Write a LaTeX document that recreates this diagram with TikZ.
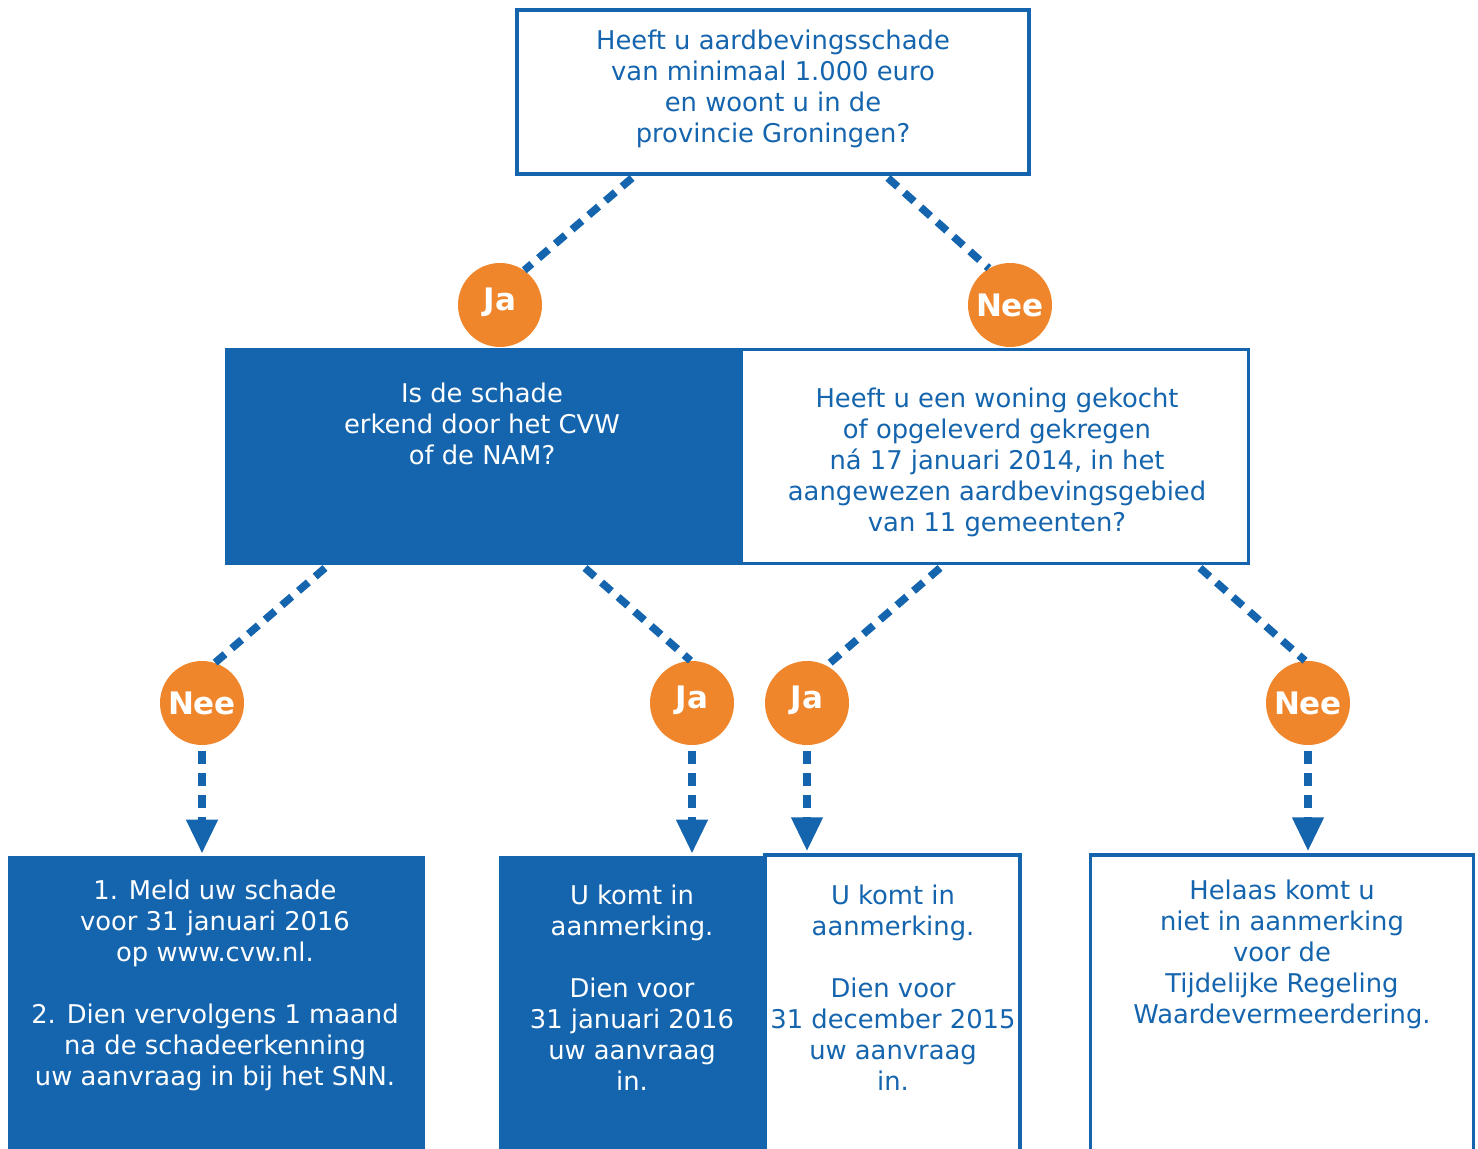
\documentclass[tikz,border=0pt]{standalone}
\usepackage{fontspec}
\setmainfont{DejaVu Sans}
\usetikzlibrary{arrows.meta,calc}
\definecolor{cvwblauw}{RGB}{21,101,174}
\definecolor{jaoranje}{RGB}{240,134,44}

\begin{document}
\begin{tikzpicture}[x=0.5pt,y=-0.5pt,inner sep=0pt,
                    font=\fontsize{12.9}{15.5}\selectfont]
  \tikzstyle{vraag}=[rectangle,draw=cvwblauw,line width=1.75pt,fill=white]
  \tikzstyle{vol}=[rectangle,fill=cvwblauw]
  \tikzstyle{tekst}=[align=center,text=cvwblauw]
  \tikzstyle{wit}=[align=center,text=white]
  \tikzstyle{keuze}=[circle,fill=jaoranje,text=white,minimum size=42pt,
                     font=\fontsize{15.5}{18}\selectfont\bfseries]
  \tikzstyle{jaknop}=[keuze,text depth=6pt]
  \tikzstyle{stip}=[draw=cvwblauw,line width=3.8pt,dash pattern=on 6.5pt off 4.5pt]
  \tikzstyle{pijl}=[stip,-{Triangle[width=15pt,length=17pt]}]

  \useasboundingbox (0,0) rectangle (1478,1149);
  \clip (0,0) rectangle (1478,1149);

  % vragen
  \node[vraag,minimum width=256pt,minimum height=82pt] (q1) at (773,92) {};
  \node[vol,minimum width=257.5pt,minimum height=108.5pt] (q2) at (482.5,456.5) {};
  \node[vraag,minimum width=253.5pt,minimum height=107pt] (q3) at (995,456.5) {};

  \node[tekst] (q1t) at (773,89) {Heeft u aardbevingsschade\\van minimaal 1.000 euro\\en woont u in de\\provincie Groningen?};
  \node[wit] (q2t) at (482,424) {Is de schade\\erkend door het CVW\\of de NAM?};
  \node[tekst] (q3t) at (997,462) {Heeft u een woning gekocht\\of opgeleverd gekregen\\ná 17 januari 2014, in het\\aangewezen aardbevingsgebied\\van 11 gemeenten?};

  % antwoorden
  \node[vol,minimum width=208.5pt,minimum height=152pt] (b1) at (216.5,1008) {};
  \node[vol,minimum width=132pt,minimum height=152pt] (b2) at (631,1008) {};
  \node[vraag,minimum width=127.5pt,minimum height=155pt] (b3) at (892.5,1010) {};
  \node[vraag,minimum width=191.5pt,minimum height=155pt] (b4) at (1282,1010) {};

  \node[wit] (b1t) at (215,985) {1. Meld uw schade\\voor 31 januari 2016\\op www.cvw.nl.\\ \\2. Dien vervolgens 1 maand\\na de schadeerkenning\\uw aanvraag in bij het SNN.};
  \node[wit] (b2t) at (632,988) {U komt in\\aanmerking.\\ \\Dien voor\\31 januari 2016\\uw aanvraag\\in.};
  \node[tekst] (b3t) at (893,988) {U komt in\\aanmerking.\\ \\Dien voor\\31 december 2015\\uw aanvraag\\in.};
  \node[tekst] (b4t) at (1282,954) {Helaas komt u\\niet in aanmerking\\voor de\\Tijdelijke Regeling\\Waardevermeerdering.};

  % ja / nee
  \node[jaknop] (ja1) at (500,305) {Ja};
  \node[keuze] (nee1) at (1010,305) {Nee};
  \node[keuze] (nee2) at (202,703) {Nee};
  \node[jaknop] (ja2) at (692,703) {Ja};
  \node[jaknop] (ja3) at (807,703) {Ja};
  \node[keuze] (nee3) at (1308,703) {Nee};

  \coordinate (q1ja) at (632,178);
  \coordinate (q1nee) at (888,178);
  \coordinate (q2nee) at (325,568);
  \coordinate (q2ja) at (585,568);
  \coordinate (q3ja) at (940,568);
  \coordinate (q3nee) at (1200,568);

  \path[stip]
(q1ja) edge (ja1.55)
(q1nee) edge (nee1.120)
(q2nee) edge (nee2.72)
(q2ja) edge (ja2.92)
(q3ja) edge (ja3.62)
(q3nee) edge (nee3.94);

  \draw[pijl,shorten <=3pt,shorten >=1pt] (nee2) -- (nee2 |- b1.north);
  \draw[pijl,shorten <=3pt,shorten >=1pt] (ja2) -- (ja2 |- b2.north);
  \draw[pijl,shorten <=3pt,shorten >=1pt] (ja3) -- (ja3 |- b3.north);
  \draw[pijl,shorten <=3pt,shorten >=1pt] (nee3) -- (nee3 |- b4.north);
\end{tikzpicture}
\end{document}
